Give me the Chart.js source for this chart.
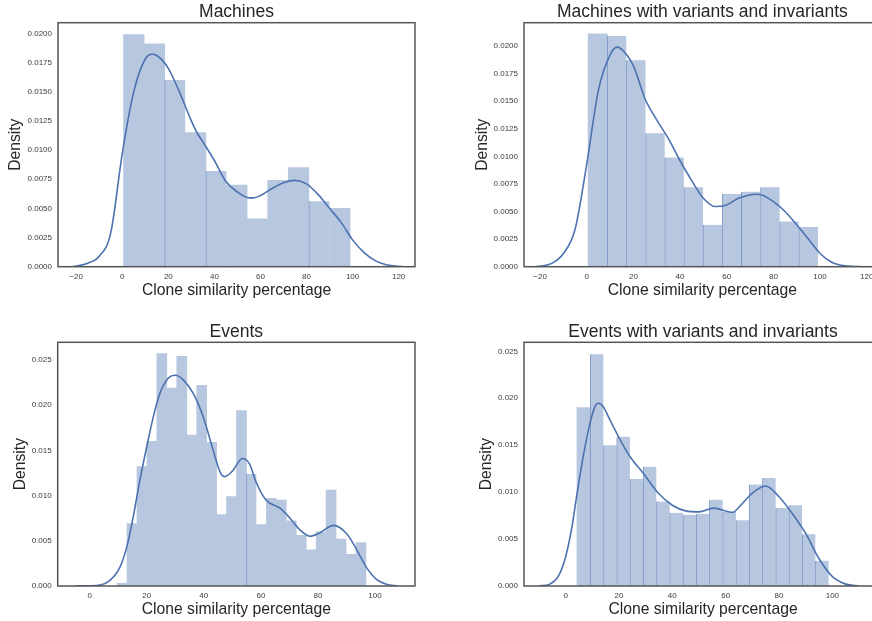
<!DOCTYPE html>
<html>
<head>
<meta charset="utf-8">
<script src="https://cdn.jsdelivr.net/npm/chart.js@4/dist/chart.umd.min.js"></script>
<style>
  html, body { margin: 0; padding: 0; background: #fff; width: 872px; height: 621px; overflow: hidden; position: relative; }
  canvas { position: absolute; }
</style>
</head>
<body>
<canvas id="c1" width="436" height="310" style="left:0;top:0"></canvas>
<canvas id="c2" width="466" height="310" style="left:436px;top:0"></canvas>
<canvas id="c3" width="436" height="311" style="left:0;top:310px"></canvas>
<canvas id="c4" width="467" height="311" style="left:436px;top:310px"></canvas>
<script>
// histogram bins (first edge, last edge) and densities, plus the kde curves

var machinesBins = [0.56, 98.9];
var machinesDensity = [0.0199, 0.0191, 0.0160, 0.0115, 0.0082, 0.0070, 0.0041, 0.0074, 0.0085, 0.0056, 0.0050];
var machinesKdeX = [-22, -20, -15, -10, -5, 0, 5, 10, 13, 15, 20, 25, 30, 32.4, 35, 40, 45, 50, 55, 57, 60, 65, 70, 75, 80, 85, 90, 95, 100, 105, 110, 115, 120, 122];
var machinesKdeY = [0, 0.00005, 0.0003, 0.0009, 0.0029, 0.0097, 0.0150, 0.0178, 0.0182, 0.0181, 0.0170, 0.0149, 0.0125, 0.0115, 0.0107, 0.0091, 0.0073, 0.0064, 0.0059, 0.0059, 0.0061, 0.0067, 0.0072, 0.0074, 0.0071, 0.0062, 0.0050, 0.0038, 0.0023, 0.0012, 0.0005, 0.00015, 0.00003, 0];

var machinesVarBins = [0.57, 99.1];
var machinesVarDensity = [0.0211, 0.0209, 0.0187, 0.0121, 0.0099, 0.0072, 0.0038, 0.0066, 0.0068, 0.0072, 0.0041, 0.0036];
var machinesVarKdeX = [-22, -20, -15, -10, -5, 0, 5, 10, 13, 15, 20, 25, 30, 35, 40, 45, 50, 55, 60, 65, 70, 72, 75, 80, 85, 90, 95, 100, 105, 110, 115, 118];
var machinesVarKdeY = [0, 0.00005, 0.0003, 0.0012, 0.0034, 0.0093, 0.0160, 0.0192, 0.0199, 0.0197, 0.0182, 0.0152, 0.0133, 0.0116, 0.0096, 0.0078, 0.0062, 0.00545, 0.0056, 0.0062, 0.0065, 0.00656, 0.0065, 0.0059, 0.0050, 0.0038, 0.0025, 0.0012, 0.0004, 0.0001, 0.00002, 0];

var eventsBins = [9.6, 96.8];
var eventsDensity = [0.0003, 0.0069, 0.0132, 0.0160, 0.0257, 0.0219, 0.0254, 0.0167, 0.0222, 0.0159, 0.0079, 0.0099, 0.0194, 0.0124, 0.0068, 0.0097, 0.0095, 0.0072, 0.0056, 0.0040, 0.0060, 0.0106, 0.0052, 0.0035, 0.0048];
var eventsKdeX = [-5, 0, 3.6, 7, 10.5, 13, 15.3, 17.6, 20, 22.3, 24.6, 27.6, 30, 32.8, 36.3, 39.8, 43.3, 45.7, 47.3, 50, 53.5, 56, 58.3, 61.8, 66.7, 70.2, 73.7, 77.2, 80.7, 85.4, 90, 93.6, 97.1, 100.6, 104, 108];
var eventsKdeY = [0, 0.00003, 0.0001, 0.0006, 0.0020, 0.0043, 0.0077, 0.0117, 0.0154, 0.0187, 0.0213, 0.0230, 0.0233, 0.0228, 0.0213, 0.0187, 0.0150, 0.0126, 0.0121, 0.0127, 0.0141, 0.0135, 0.0115, 0.0095, 0.0086, 0.0075, 0.0062, 0.0055, 0.0059, 0.0067, 0.0058, 0.0040, 0.0020, 0.0007, 0.0002, 0];

var eventsVarBins = [4.25, 98.6];
var eventsVarDensity = [0.0190, 0.0247, 0.0150, 0.0159, 0.0114, 0.0127, 0.0090, 0.0078, 0.0076, 0.0077, 0.0092, 0.0079, 0.0070, 0.0108, 0.0115, 0.0083, 0.0086, 0.0055, 0.0027];
var eventsVarKdeX = [-10, -5.9, -2.8, -0.3, 2.2, 4.1, 6.6, 9.1, 11, 12.2, 14.1, 16.6, 20.4, 24.1, 29.1, 34.7, 40, 45, 50, 55.5, 62.6, 65, 70, 75, 80, 85, 90, 95, 100, 105, 110];
var eventsVarKdeY = [0, 0.0002, 0.0010, 0.0028, 0.0060, 0.0095, 0.0138, 0.0173, 0.0191, 0.01946, 0.0191, 0.0177, 0.0156, 0.0138, 0.0120, 0.0099, 0.0086, 0.0080, 0.0079, 0.0083, 0.00785, 0.0084, 0.0099, 0.01065, 0.0095, 0.0077, 0.0056, 0.0029, 0.0010, 0.0002, 0];

var xLabel = "Clone similarity percentage";
var yLabel = "Density";

var barFill = "rgb(183,199,223)";
var barEdge = "rgb(128,153,199)";
var kdeColor = "rgb(76,114,176)";
var textColor = "#262626";
var fontFamily = "'Liberation Sans', Arial, sans-serif";

// box around the plot area, like the matplotlib axes spines
var framePlugin = {
  id: "frame",
  afterDatasetsDraw: function (chart) {
    var a = chart.chartArea, c = chart.ctx;
    c.save();
    c.strokeStyle = "#555";
    c.lineWidth = 1.5;
    c.strokeRect(a.left, a.top, a.right - a.left, a.bottom - a.top);
    c.restore();
  }
};

function binCenters(range, n) {
  var w = (range[1] - range[0]) / n;
  var out = [];
  for (var i = 0; i < n; i++) out.push(range[0] + w * (i + 0.5));
  return out;
}

function drawPanel(id, p) {
  var centers = binCenters(p.bins, p.density.length);
  var bars = centers.map(function (x, i) { return { x: x, y: p.density[i] }; });
  var kde = p.kdeX.map(function (x, i) { return { x: x, y: p.kdeY[i] }; });

  new Chart(document.getElementById(id), {
    type: "bar",
    data: {
      datasets: [
        {
          type: "line",
          data: kde,
          borderColor: kdeColor,
          borderWidth: 1.6,
          pointRadius: 0,
          fill: false,
          cubicInterpolationMode: "monotone",
          order: 0
        },
        {
          type: "bar",
          data: bars,
          backgroundColor: barFill,
          borderColor: barEdge,
          borderWidth: function (ctx) {
            return p.edges.indexOf(ctx.dataIndex) >= 0 ? { left: 1, right: 0, top: 0, bottom: 0 } : 0;
          },
          borderSkipped: false,
          barPercentage: 1,
          categoryPercentage: 1,
          order: 1
        }
      ]
    },
    options: {
      responsive: false,
      animation: false,
      events: [],
      layout: { padding: { left: 0, right: p.padRight, top: 0, bottom: 0 } },
      plugins: {
        legend: { display: false },
        tooltip: { enabled: false },
        title: {
          display: true,
          fullSize: false,
          text: p.title,
          color: textColor,
          font: { family: fontFamily, size: 17.5, weight: "normal" },
          padding: { top: p.titlePad, bottom: 0 }
        }
      },
      scales: {
        x: {
          type: "linear",
          offset: false,
          min: p.xMin,
          max: p.xMax,
          afterFit: function (s) { s.height = p.xAxisH; },
          grid: { display: false, drawTicks: false },
          border: { display: false },
          ticks: {
            stepSize: 20,
            includeBounds: false,
            autoSkip: false,
            maxRotation: 0,
            padding: 5,
            color: "#3a3a3a",
            font: { family: fontFamily, size: 8 },
            callback: function (v) { return String(v).replace("-", "\u2212"); }
          },
          title: {
            display: true,
            text: xLabel,
            color: textColor,
            font: { family: fontFamily, size: 15.7 },
            padding: { top: 0, bottom: p.xTitlePad }
          }
        },
        y: {
          min: 0,
          max: p.yMax,
          afterFit: function (s) { s.width = p.yAxisW; },
          grid: { display: false, drawTicks: false },
          border: { display: false },
          ticks: {
            stepSize: p.yStep,
            includeBounds: false,
            autoSkip: false,
            padding: 6,
            color: "#3a3a3a",
            font: { family: fontFamily, size: 8 },
            callback: function (v) { return v.toFixed(p.yDigits); }
          },
          title: {
            display: true,
            text: yLabel,
            color: textColor,
            font: { family: fontFamily, size: 15.7 },
            padding: { top: p.yTitlePad, bottom: 0 }
          }
        }
      }
    },
    plugins: [framePlugin]
  });
}

drawPanel("c1", {
  title: "Machines", bins: machinesBins, density: machinesDensity,
  kdeX: machinesKdeX, kdeY: machinesKdeY, edges: [2, 4, 9],
  xMin: -27.9, xMax: 127.1, yMax: 0.02091, yStep: 0.0025, yDigits: 4,
  yAxisW: 58, xAxisH: 43.3, titlePad: 1.7, yTitlePad: 6.6, xTitlePad: 10.1, padRight: 21
});

drawPanel("c2", {
  title: "Machines with variants and invariants", bins: machinesVarBins, density: machinesVarDensity,
  kdeX: machinesVarKdeX, kdeY: machinesVarKdeY, edges: [1, 2, 3, 4, 5, 6, 7, 8, 9, 10, 11],
  xMin: -26.9, xMax: 126.0, yMax: 0.02211, yStep: 0.0025, yDigits: 4,
  yAxisW: 88, xAxisH: 43.3, titlePad: 1.7, yTitlePad: 37.3, xTitlePad: 10.1, padRight: 21.3
});

drawPanel("c3", {
  title: "Events", bins: eventsBins, density: eventsDensity,
  kdeX: eventsKdeX, kdeY: eventsKdeY, edges: [13],
  xMin: -11.2, xMax: 114, yMax: 0.02695, yStep: 0.005, yDigits: 3,
  yAxisW: 57.7, xAxisH: 35, titlePad: 11.3, yTitlePad: 11.3, xTitlePad: 1.8, padRight: 21
});

drawPanel("c4", {
  title: "Events with variants and invariants", bins: eventsVarBins, density: eventsVarDensity,
  kdeX: eventsVarKdeX, kdeY: eventsVarKdeY, edges: [1, 2, 3, 4, 5, 6, 7, 8, 9, 10, 11, 12, 13, 14, 15, 16, 17, 18],
  xMin: -15.6, xMax: 118.6, yMax: 0.02596, yStep: 0.005, yDigits: 3,
  yAxisW: 88, xAxisH: 35, titlePad: 11.3, yTitlePad: 41.3, xTitlePad: 1.8, padRight: 21
});
</script>
</body>
</html>
